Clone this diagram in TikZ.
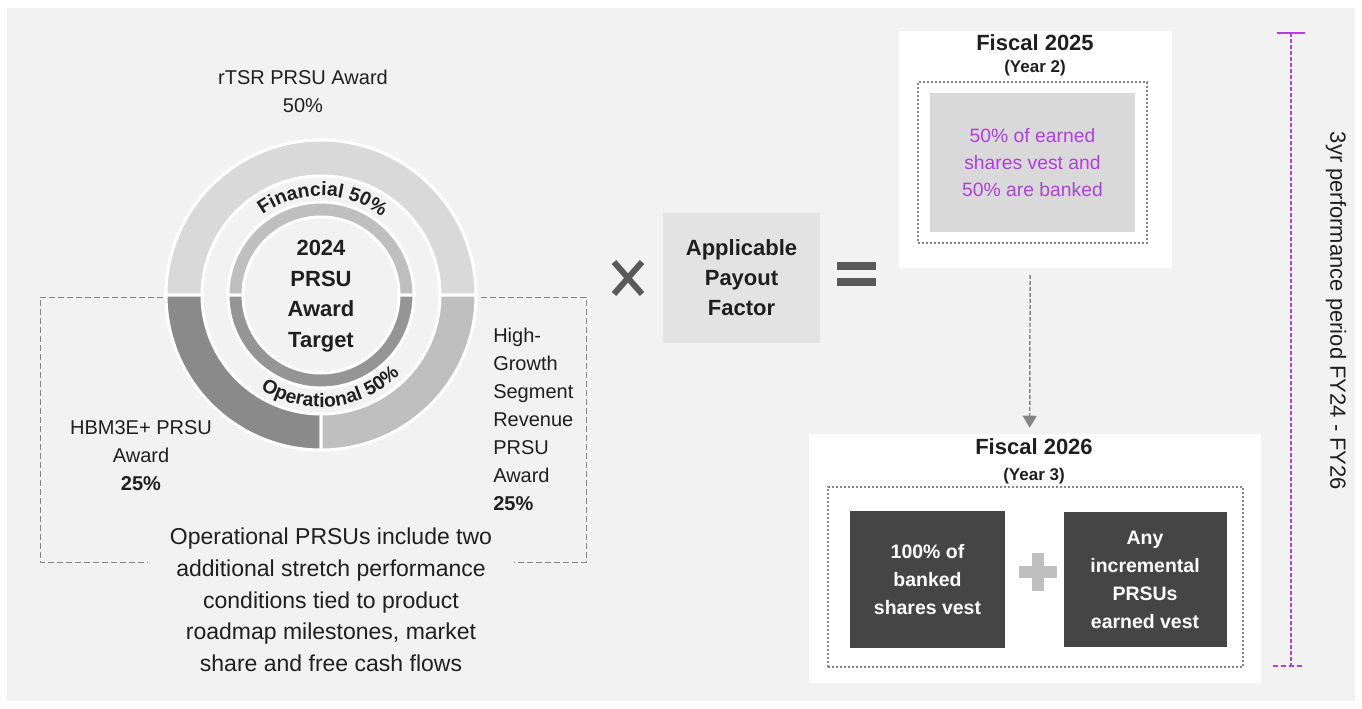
\documentclass[tikz,border=0pt]{standalone}
\usepackage{fontspec}
\setmainfont{Liberation Sans}
\usepackage{tikz}
\usetikzlibrary{arrows.meta,positioning,calc,decorations.text}
\definecolor{Bg}{HTML}{F2F2F2}
\definecolor{Ink}{HTML}{1F1F1F}
\definecolor{SignGray}{HTML}{595959}
\definecolor{LineGray}{HTML}{858585}
\definecolor{RingLight}{HTML}{D9D9D9}
\definecolor{RingMid}{HTML}{BFBFBF}
\definecolor{RingDark}{HTML}{8A8A8A}
\definecolor{RingInner}{HTML}{959595}
\definecolor{PanelGray}{HTML}{E3E3E3}
\definecolor{NoteGray}{HTML}{D9D9D9}
\definecolor{DarkBox}{HTML}{454545}
\definecolor{Violet}{HTML}{B23FDA}
\newcommand{\ringseg}[5]{\fill[#1, draw=white, line width=2.25pt] (#2:#5) arc[start angle=#2, end angle=#3, radius=#5] -- (#3:#4) arc[start angle=#3, end angle=#2, radius=#4] -- cycle;}

\begin{document}
\begin{tikzpicture}[x=0.75pt, y=0.75pt,
  lbl/.style={inner sep=0pt, align=center, text=Ink, font=\fontsize{15}{21}\selectfont},
  hub/.style={inner sep=0pt, align=center, text=Ink, font=\fontsize{16.5}{23}\selectfont\bfseries},
  note/.style={inner sep=0pt, align=center, text=Ink, font=\fontsize{17.25}{23.8}\selectfont},
  panel/.style={fill=PanelGray, inner sep=0pt, minimum width=117.75pt, minimum height=97.5pt, align=center, text=Ink, font=\fontsize{16.5}{22.5}\selectfont\bfseries},
  card/.style={fill=white, inner sep=0pt},
  dots/.style={draw=LineGray, line width=1.5pt, dash pattern=on 1.5pt off 1.5pt, inner sep=0pt},
  title/.style={inner sep=0pt, text=Ink, font=\fontsize{16.5}{20}\selectfont\bfseries},
  sub/.style={inner sep=0pt, text=Ink, font=\fontsize{12.75}{15}\selectfont\bfseries},
  darkbox/.style={fill=DarkBox, text=white, inner sep=0pt, align=center, font=\fontsize{14.6}{21}\selectfont\bfseries},
  guide/.style={draw=LineGray, line width=0.75pt, dash pattern=on 4.5pt off 2.25pt},
  arrow/.style={-{Triangle[length=9pt, width=10.5pt]}, draw=LineGray, line width=1.1pt, dash pattern=on 3pt off 1.5pt},
  sign/.style={draw=SignGray, line width=4.5pt},
  span/.style={draw=Violet, line width=1.1pt, dash pattern=on 3pt off 1.5pt},
  arctext/.style={decorate, decoration={text along path, text align=center, text color=Ink, text={#1}}}
]
\useasboundingbox (0,0) rectangle (1362,-709);
\fill[white] (0,0) rectangle (1362,-709);
\fill[Bg] (7,-8) rectangle (1355,-701);

\draw[guide] (163,-297) -- (40,-297) -- (40,-562) -- (148,-562);
\draw[guide] (481,-297) -- (586,-297) -- (586,-562) -- (514,-562);

\coordinate (hubc) at (321,-295);
\begin{scope}[shift={(hubc)}]
  \ringseg{RingLight}{0}{180}{119}{155}
  \ringseg{RingDark}{180}{270}{119}{155}
  \ringseg{RingMid}{270}{360}{119}{155}
  \ringseg{RingMid}{0}{180}{78}{93}
  \ringseg{RingInner}{180}{360}{78}{93}
  \path[arctext={|\fontsize{14.5}{14.5}\selectfont\bfseries|Financial 50{\%}}] (149:99) arc[start angle=149, end angle=29, radius=99];
  \path[arctext={|\fontsize{14.5}{14.5}\selectfont\bfseries|Operational 50{\%}}] (186:112) arc[start angle=186, end angle=366, radius=112];
\end{scope}
\node[hub] (target) at (321,-296) {2024\\PRSU\\Award\\Target};

\node[lbl] (rtsr) at (303,-91) {rTSR PRSU Award\\50\%};
\node[lbl] (hbm) at (141,-456) {HBM3E+ PRSU\\Award\\\textbf{25\%}};
\node[lbl, align=left, anchor=west] (hgs) at (493,-419) {High-\\Growth\\Segment\\Revenue\\PRSU\\Award\\\textbf{25\%}};
\node[note] (opsnote) at (331,-600) {Operational PRSUs include two\\additional stretch performance\\conditions tied to product\\roadmap milestones, market\\share and free cash flows};

\draw[sign] (614,-262) -- (642,-294);
\draw[sign] (614,-294) -- (642,-262);
\node[panel] (payout) at (741.5,-278) {Applicable\\Payout\\Factor};
\fill[SignGray] (837,-262) rectangle (876,-270);
\fill[SignGray] (837,-278) rectangle (876,-286);

\node[card, minimum width=204.75pt, minimum height=177.75pt] (fy25) at (1035.5,-149.5) {};
\node[title] (fy25t) at (1035,-43) {Fiscal 2025};
\node[sub] (fy25s) at (1035,-68) {(Year 2)};
\node[dots, minimum width=171.75pt, minimum height=120.75pt] (fy25frame) at (1032.5,-162.5) {};
\node[fill=NoteGray, minimum width=153.75pt, minimum height=104.25pt, align=center, text=Violet, font=\fontsize{14.5}{20}\selectfont] (banking) at (1032.5,-162.5) {50\% of earned\\shares vest and\\50\% are banked};

\node[card, minimum width=339pt, minimum height=186.75pt] (fy26) at (1035,-558.5) {};
\node[title] (fy26t) at (1034,-447) {Fiscal 2026};
\node[sub] (fy26s) at (1034,-476) {(Year 3)};
\node[dots, minimum width=311.25pt, minimum height=135pt] (fy26frame) at (1035.5,-577) {};
\node[darkbox, minimum width=116.25pt, minimum height=102.75pt] (banked) at (927.5,-579.5) {100\% of\\banked\\shares vest};
\node[darkbox, minimum width=122.25pt, minimum height=101.25pt, right=43.5pt of banked] (incr) {Any\\incremental\\PRSUs\\earned vest};
\fill[RingMid] (1019,-566) rectangle (1057,-578);
\fill[RingMid] (1032,-553) rectangle (1044,-591);

\draw[arrow, shorten <=5pt, shorten >=4.5pt] ([xshift=-4pt]fy25.south) -- ([xshift=-4pt]fy26.north);

\coordinate (spantop) at (1291,-33);
\coordinate (spanbot) at (1291,-666);
\draw[span] (spantop) -- (spanbot);
\draw[Violet, line width=2.2pt] ([xshift=-10.5pt]spantop) -- ([xshift=10.5pt]spantop);
\draw[Violet, line width=2.2pt, dash pattern=on 4pt off 2pt] ([xshift=-13.5pt]spanbot) -- ([xshift=9pt]spanbot);
\node[lbl, rotate=-90, font=\fontsize{16.5}{20}\selectfont] (period) at (1336,-311) {3yr performance period FY24 - FY26};
\end{tikzpicture}
\end{document}
